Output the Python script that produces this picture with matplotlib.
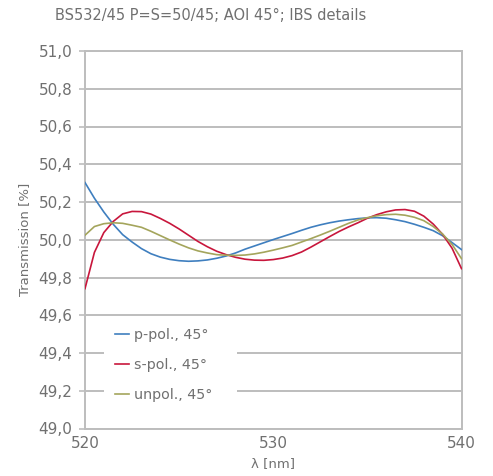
import numpy as np
import matplotlib
matplotlib.use("Agg")
import matplotlib.pyplot as plt
from matplotlib.patches import Rectangle

# ---- data ----
wavelength = [520.0 + 0.5 * i for i in range(41)]

p_pol = [50.303, 50.220, 50.147, 50.082, 50.027, 49.988, 49.953, 49.926, 49.908, 49.896,
         49.889, 49.886, 49.888, 49.893, 49.902, 49.914, 49.930, 49.950, 49.967, 49.984,
         50.001, 50.017, 50.033, 50.050, 50.066, 50.079, 50.090, 50.099, 50.106, 50.112,
         50.116, 50.117, 50.114, 50.106, 50.096, 50.082, 50.066, 50.048, 50.021, 49.985,
         49.948]

s_pol = [49.741, 49.933, 50.038, 50.097, 50.137, 50.150, 50.149, 50.136, 50.113, 50.087,
         50.057, 50.024, 49.991, 49.963, 49.939, 49.921, 49.907, 49.897, 49.892, 49.891,
         49.895, 49.903, 49.916, 49.935, 49.961, 49.989, 50.017, 50.044, 50.068, 50.090,
         50.114, 50.133, 50.148, 50.158, 50.160, 50.151, 50.125, 50.083, 50.028, 49.955,
         49.847]

unpol = [50.024, 50.070, 50.085, 50.090, 50.087, 50.077, 50.066, 50.045, 50.022, 49.999,
         49.977, 49.957, 49.941, 49.930, 49.921, 49.918, 49.917, 49.919, 49.925, 49.934,
         49.945, 49.957, 49.970, 49.988, 50.006, 50.025, 50.045, 50.066, 50.087, 50.105,
         50.117, 50.127, 50.133, 50.135, 50.130, 50.119, 50.101, 50.070, 50.030, 49.975,
         49.900]

series_labels = ["p-pol., 45°", "s-pol., 45°", "unpol., 45°"]
y_ticks = [49.0, 49.2, 49.4, 49.6, 49.8, 50.0, 50.2, 50.4, 50.6, 50.8, 51.0]
x_ticks = [520, 530, 540]
title = "BS532/45 P=S=50/45; AOI 45°; IBS details"

# ---- style ----
plt.rcParams['font.family'] = ['DejaVu Sans']
text_color = '#707070'
grid_color = '#bdbdbd'
colors = ['#3f7fbf', '#c8163c', '#a4a55c']

W, H = 493, 476
fig = plt.figure(figsize=(W / 100, H / 100), dpi=100)
ax = fig.add_axes([85 / W, 1 - 428.5 / H, 376.5 / W, 377.5 / H])

for vals, lab, c in zip([p_pol, s_pol, unpol], series_labels, colors):
    ax.plot(wavelength, vals, color=c, lw=1.2, label=lab, zorder=3)

ax.set_xlim(520, 540)
ax.set_ylim(49.0, 51.0)
ax.set_yticks(y_ticks)
ax.set_yticklabels([f"{v:.1f}".replace('.', ',') for v in y_ticks])
ax.set_xticks(x_ticks)
ax.set_xticklabels([str(v) for v in x_ticks])
ax.yaxis.grid(True, color=grid_color, lw=1.4)
ax.set_axisbelow(True)

for side in ['left', 'right', 'bottom', 'top']:
    ax.spines[side].set_color(grid_color)
    ax.spines[side].set_linewidth(1.4)

ax.tick_params(axis='y', length=4, width=1.2, color=grid_color, labelsize=11,
               labelcolor=text_color, pad=5)
ax.tick_params(axis='x', length=0, labelsize=11, labelcolor=text_color, pad=5.5)

ax.set_xlabel("λ [nm]", fontsize=9.5, color=text_color, labelpad=4)
ax.set_ylabel("Transmission [%]", fontsize=9.5, color=text_color)
ax.yaxis.set_label_coords(-0.143, 0.5)

fig.text(55 / W, 1 - 19.5 / H, title, fontsize=10.5, color=text_color,
         ha='left', va='baseline')

# white area behind the legend that interrupts the gridlines
ax.add_patch(Rectangle((0.0505, 0.049), 0.353, 0.244, transform=ax.transAxes,
                       facecolor='white', edgecolor='none', zorder=1.5))

leg = ax.legend(loc='upper left', bbox_to_anchor=(0.0797, 0.265), frameon=False,
                fontsize=10.3, handlelength=1.0, handletextpad=0.3,
                labelspacing=1.1, borderpad=0.0, borderaxespad=0.0)
for t in leg.get_texts():
    t.set_color(text_color)

fig.savefig("out.png", dpi=100)
